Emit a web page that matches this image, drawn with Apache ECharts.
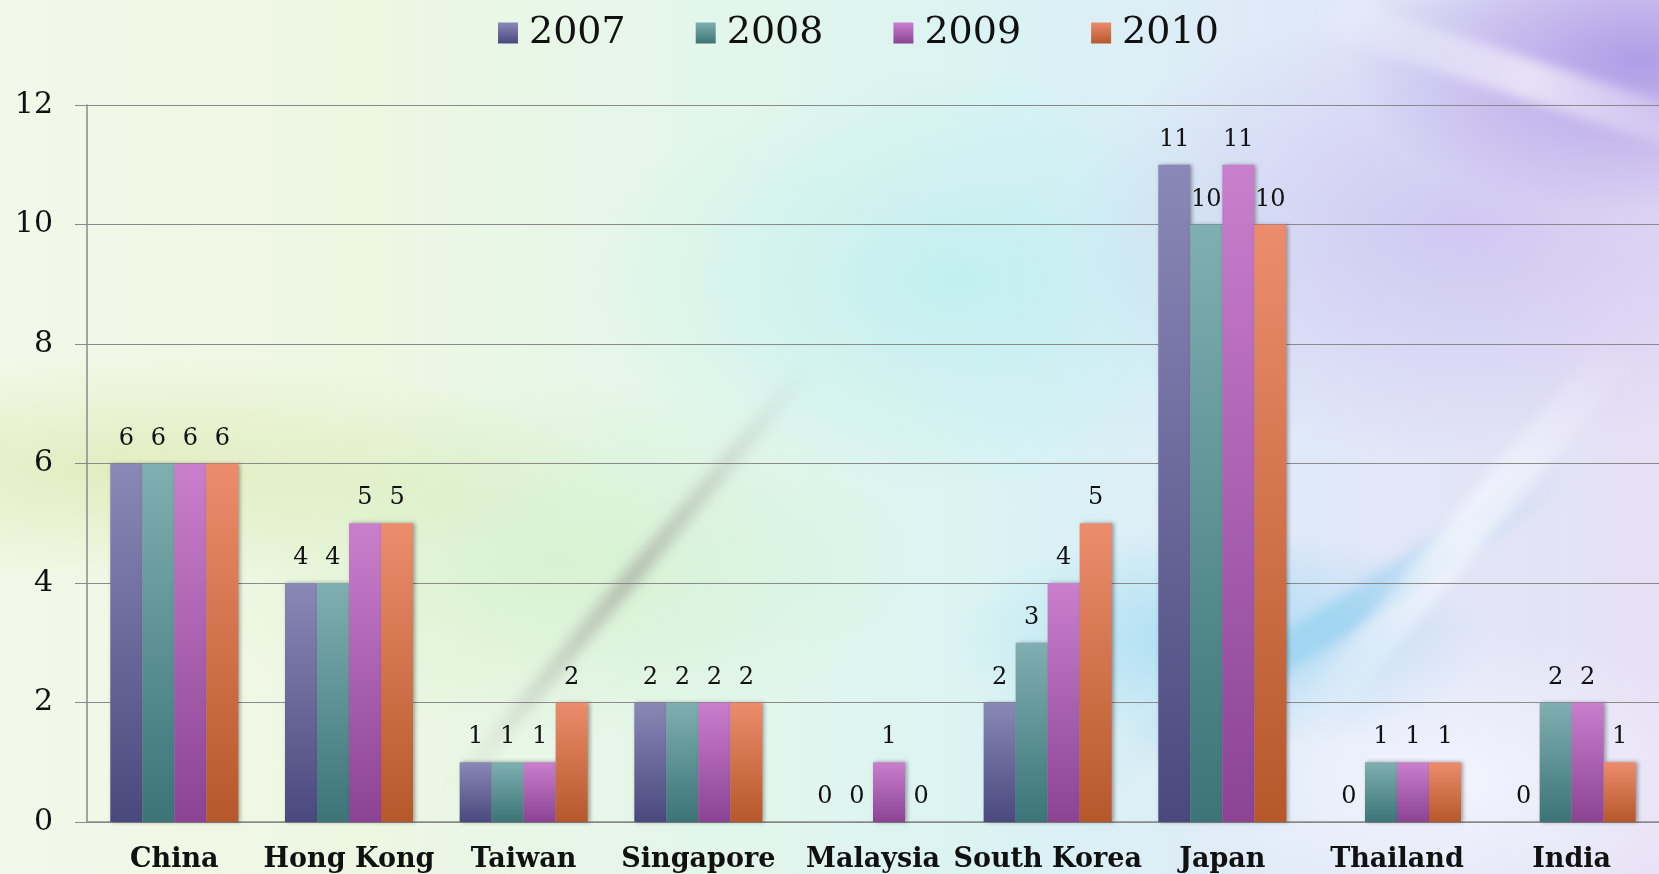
<!DOCTYPE html>
<html>
<head>
<meta charset="utf-8">
<script src="https://cdn.jsdelivr.net/npm/echarts@6/dist/echarts.min.js"></script>
<style>
html,body{margin:0;padding:0;width:1659px;height:874px;overflow:hidden;}
body{
  position:relative;
  background:
    radial-gradient(ellipse 420px 220px at 1640px 60px, rgba(160,135,225,0.75), rgba(160,135,225,0) 70%),
    radial-gradient(ellipse 560px 330px at 1460px 230px, rgba(195,180,238,0.6), rgba(195,180,238,0) 70%),
    radial-gradient(ellipse 380px 160px at 1220px 640px, rgba(120,205,240,0.5), rgba(120,205,240,0) 70%),
    radial-gradient(ellipse 700px 160px at 120px 470px, rgba(212,228,160,0.55), rgba(212,228,160,0) 70%),
    radial-gradient(ellipse 520px 260px at 560px 560px, rgba(195,235,180,0.45), rgba(195,235,180,0) 70%),
    radial-gradient(ellipse 520px 300px at 950px 280px, rgba(170,235,238,0.5), rgba(170,235,238,0) 70%),
    radial-gradient(ellipse 420px 220px at 1450px 780px, rgba(248,250,255,0.7), rgba(248,250,255,0) 70%),
    linear-gradient(90deg, #f3f8e8 0%, #edf7e2 22%, #e2f6ec 45%, #d9f2f4 62%, #e0e8f8 80%, #e6e0f5 100%);
}
.sw{position:absolute;filter:blur(6px);pointer-events:none;}
#chart{position:absolute;left:0;top:0;width:1659px;height:874px;}
</style>
</head>
<body>
<div class="sw" style="left:350px;top:570px;width:560px;height:18px;transform:rotate(-50deg);background:linear-gradient(90deg,rgba(140,140,140,0),rgba(140,135,135,0.45),rgba(140,140,140,0));"></div>
<div class="sw" style="left:1060px;top:600px;width:560px;height:36px;transform:rotate(-33deg);background:linear-gradient(90deg,rgba(110,195,235,0),rgba(110,195,235,0.4),rgba(110,195,235,0));"></div>
<div class="sw" style="left:1200px;top:520px;width:520px;height:40px;transform:rotate(-50deg);background:linear-gradient(90deg,rgba(255,255,255,0),rgba(255,255,255,0.6),rgba(255,255,255,0));"></div>
<div class="sw" style="left:1300px;top:60px;width:460px;height:40px;transform:rotate(18deg);background:linear-gradient(90deg,rgba(255,255,255,0),rgba(255,255,255,0.6),rgba(255,255,255,0));"></div>
<div id="chart"></div>
<script>
var categories = ['China','Hong Kong','Taiwan','Singapore','Malaysia','South Korea','Japan','Thailand','India'];
var seriesNames = ['2007','2008','2009','2010'];
var v2007 = [6,4,1,2,0,2,11,0,0];
var v2008 = [6,4,1,2,0,3,10,1,2];
var v2009 = [6,5,1,2,1,4,11,1,2];
var v2010 = [6,5,2,2,0,5,10,1,1];
var yTicks = {min:0, max:12, interval:2};

var colorStops = [
  ['#8a88b6','#4a497e'],
  ['#7fafb1','#3c7477'],
  ['#c97fcc','#8c4394'],
  ['#ec8c6c','#b6582a']
];
function grad(c){
  return new echarts.graphic.LinearGradient(0,0,0,1,[{offset:0,color:c[0]},{offset:1,color:c[1]}]);
}
var values = [v2007,v2008,v2009,v2010];
var font = '"DejaVu Serif", "Liberation Serif", serif';

var series = seriesNames.map(function(n,i){
  return {
    name:n, type:'bar', data:values[i],
    barGap:'0%', barCategoryGap:'26.7%',
    itemStyle:{color:grad(colorStops[i]), shadowColor:'rgba(0,0,0,0.35)', shadowBlur:4, shadowOffsetX:2, shadowOffsetY:0},
    label:{show:true, position:'top', distance:13, color:'#111', fontFamily:font, fontSize:24},
    emphasis:{disabled:true}
  };
});

var chart = echarts.init(document.getElementById('chart'), null, {renderer:'canvas'});
chart.setOption({
  animation:false,
  backgroundColor:'transparent',
  legend:{
    data:seriesNames, left:493, top:9, itemWidth:20, itemHeight:21, itemGap:70,
    icon:'rect',
    textStyle:{fontFamily:font, fontSize:38, color:'#111', padding:[0,0,0,6]}
  },
  grid:{left:87, right:0, top:105, bottom:52, containLabel:false},
  xAxis:{
    type:'category', data:categories,
    axisLine:{lineStyle:{color:'#8a8a8a', width:1.5}},
    axisTick:{show:false},
    axisLabel:{interval:0, hideOverlap:false, fontFamily:font, fontWeight:'bold', fontSize:27, color:'#111', margin:24}
  },
  yAxis:{
    type:'value', min:yTicks.min, max:yTicks.max, interval:yTicks.interval,
    axisLine:{show:true, lineStyle:{color:'#8a8a8a', width:1.5}},
    axisTick:{show:true, length:12, lineStyle:{color:'#8a8a8a'}},
    splitLine:{lineStyle:{color:'#8a8a8a', width:1.2}},
    axisLabel:{fontFamily:font, fontSize:30, color:'#111', margin:34}
  },
  series:series
});
</script>
</body>
</html>
